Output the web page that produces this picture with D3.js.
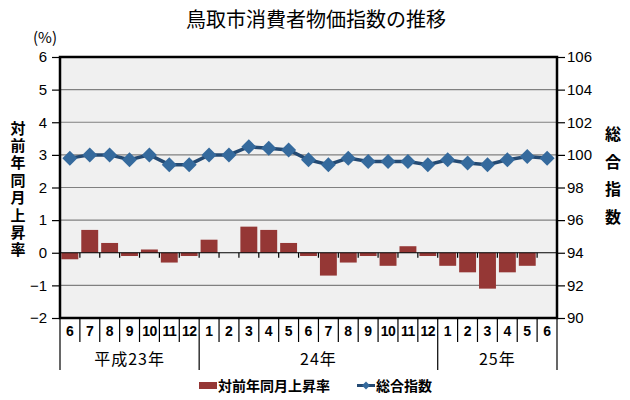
<!DOCTYPE html>
<html><head><meta charset="utf-8">
<script src="https://cdn.jsdelivr.net/npm/d3@7/dist/d3.min.js"></script>
<style>body{margin:0;background:#fff}svg{display:block}text{font-family:Arial,"Liberation Sans","Noto Sans CJK JP",sans-serif}</style>
</head><body><svg id="c" width="630" height="400"></svg>
<script>
const months = ["6","7","8","9","10","11","12","1","2","3","4","5","6","7","8","9","10","11","12","1","2","3","4","5","6"];
const years = [{label:"平成23年", start:0, end:7},{label:"24年", start:7, end:19},{label:"25年", start:19, end:25}];
const rate = [-0.2,0.7,0.3,-0.1,0.1,-0.3,-0.1,0.4,0.0,0.8,0.7,0.3,-0.1,-0.7,-0.3,-0.1,-0.4,0.2,-0.1,-0.4,-0.6,-1.1,-0.6,-0.4,0.0];
const index = [99.8,100.0,100.0,99.7,100.0,99.4,99.4,100.0,100.0,100.5,100.4,100.3,99.7,99.4,99.8,99.6,99.6,99.6,99.4,99.7,99.5,99.4,99.7,99.9,99.8];
const leftTicks = [-2,-1,0,1,2,3,4,5,6];
const rightTicks = [90,92,94,96,98,100,102,104,106];

const svg = d3.select("#c");
const L=60, R=557, T=57, B=318;
const x = d3.scaleBand().domain(d3.range(months.length)).range([L,R]).paddingInner(0.15).paddingOuter(0.07);
const xb = d3.scaleLinear().domain([0,months.length]).range([L,R]);
const yL = d3.scaleLinear().domain([-2,6]).range([B,T]);
const yR = d3.scaleLinear().domain([90,106]).range([B,T]);
const cjk = '"Noto Sans CJK JP",sans-serif';

svg.append("text").attr("x",316).attr("y",27).attr("text-anchor","middle").style("font-family",cjk).style("font-size","20px").attr("fill","#000").text("鳥取市消費者物価指数の推移");
svg.append("text").attr("x",33).attr("y",43).style("font-size","15px").style("font-family",cjk).text("(%)");

// plot background
svg.append("rect").attr("x",L).attr("y",T).attr("width",R-L).attr("height",B-T).attr("fill","#f0f0f0");
// gridlines
svg.append("g").selectAll("line").data(leftTicks.filter(d=>d!==-2&&d!==6&&d!==0)).join("line")
  .attr("x1",L).attr("x2",R).attr("y1",d=>yL(d)).attr("y2",d=>yL(d)).attr("stroke","#808080").attr("stroke-width",1.2);

// bars
svg.append("g").selectAll("rect").data(rate).join("rect")
  .attr("x",(d,i)=>x(i)).attr("width",x.bandwidth())
  .attr("y",d=>Math.min(yL(d),yL(0))).attr("height",d=>Math.abs(yL(d)-yL(0)))
  .attr("fill","#953735");

// zero line with ticks
svg.append("line").attr("x1",L).attr("x2",R).attr("y1",yL(0)).attr("y2",yL(0)).attr("stroke","#000").attr("stroke-width",1.2);
svg.append("g").selectAll("line").data(d3.range(1,months.length)).join("line")
  .attr("x1",d=>xb(d)).attr("x2",d=>xb(d)).attr("y1",yL(0)).attr("y2",yL(0)+5).attr("stroke","#000").attr("stroke-width",1.2);

// line
const cx = i=>x(i)+x.bandwidth()/2;
svg.append("path").datum(index).attr("fill","none").attr("stroke","#244a73").attr("stroke-width",3.5)
  .attr("d",d3.line().x((d,i)=>cx(i)).y(d=>yR(d)));
svg.append("g").selectAll("path").data(index).join("path")
  .attr("transform",(d,i)=>`translate(${cx(i)},${yR(d)})`)
  .attr("d","M0,-7.5L7.5,0L0,7.5L-7.5,0Z").attr("fill","#356a9d");

// frame
svg.append("rect").attr("x",L).attr("y",T).attr("width",R-L).attr("height",B-T).attr("fill","none").attr("stroke","#000").attr("stroke-width",2.5);

// left axis
const gl = svg.append("g").attr("transform",`translate(${L},0)`)
  .call(d3.axisLeft(yL).tickValues(leftTicks).tickSize(8).tickFormat(d=>d<0?"\u2212"+Math.abs(d):d));
gl.select(".domain").remove();
gl.selectAll("line").attr("stroke","#000").attr("stroke-width",1.2);
gl.selectAll("text").attr("x",-13).style("font-size","15px").style("font-family","Arial,'Liberation Sans',sans-serif").attr("fill","#000");

// right axis
const gr = svg.append("g").attr("transform",`translate(${R},0)`)
  .call(d3.axisRight(yR).tickValues(rightTicks).tickSize(8));
gr.select(".domain").remove();
gr.selectAll("line").attr("stroke","#000").attr("stroke-width",1.2);
gr.selectAll("text").attr("x",10).style("font-size","15px").style("font-family","Arial,'Liberation Sans',sans-serif").attr("fill","#000");

// axis titles (vertical)
svg.append("text").attr("x",18).attr("y",120.5)
  .style("writing-mode","vertical-rl").style("letter-spacing","2.4px")
  .style("font-family",cjk).style("font-size","15px").style("font-weight","bold").text("対前年同月上昇率");
svg.append("text").attr("x",613).attr("y",126)
  .style("writing-mode","vertical-rl").style("letter-spacing","11.5px")
  .style("font-family",cjk).style("font-size","16px").style("font-weight","bold").text("総合指数");

// x axis categories
svg.append("g").selectAll("line").data(d3.range(0,months.length+1)).join("line")
  .attr("x1",d=>xb(d)).attr("x2",d=>xb(d)).attr("y1",B).attr("y2",d=>(years.some(y=>y.start===d||y.end===d))?370:342)
  .attr("stroke","#000").attr("stroke-width",1.2);
svg.append("g").selectAll("text").data(months).join("text")
  .attr("x",(d,i)=>(xb(i)+xb(i+1))/2).attr("y",336).attr("text-anchor","middle")
  .style("font-size","14px").style("font-weight","bold").style("font-family","Arial,'Liberation Sans',sans-serif")
  .attr("letter-spacing",d=>d.length>1?"-0.5px":"0").text(d=>d);
svg.append("g").selectAll("text").data(years).join("text")
  .attr("x",d=>(xb(d.start)+xb(d.end))/2).attr("y",365).attr("text-anchor","middle")
  .attr("letter-spacing","1px")
  .style("font-family",cjk).style("font-size","16px").text(d=>d.label);

// legend
svg.append("rect").attr("x",199).attr("y",382).attr("width",18).attr("height",7).attr("fill","#953735");
svg.append("text").attr("x",218).attr("y",391).style("font-family",cjk).style("font-size","14px").style("font-weight","bold").text("対前年同月上昇率");
svg.append("line").attr("x1",357).attr("x2",375).attr("y1",385.5).attr("y2",385.5).attr("stroke","#244a73").attr("stroke-width",3);
svg.append("path").attr("transform","translate(366,385.5)").attr("d","M0,-4L4,0L0,4L-4,0Z").attr("fill","#356a9d");
svg.append("text").attr("x",376).attr("y",391).style("font-family",cjk).style("font-size","14px").style("font-weight","bold").text("総合指数");
</script></body></html>
